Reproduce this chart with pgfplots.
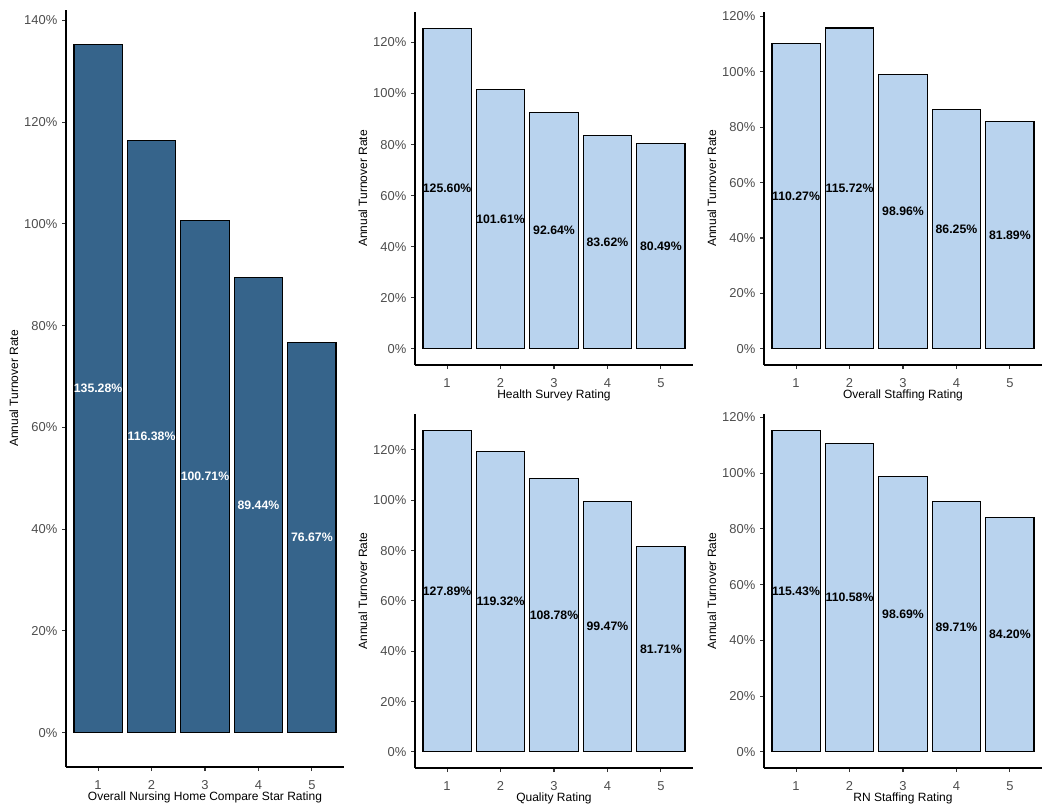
\documentclass[border=0pt]{standalone}
\usepackage{fontspec}
\setmainfont{Liberation Sans}
\setsansfont{Liberation Sans}
\usepackage{pgfplots}
\usepackage{pgfplotstable}
\pgfplotsset{compat=1.18}

\definecolor{darkbar}{RGB}{54,100,139}
\definecolor{lightbar}{RGB}{185,211,238}
\definecolor{ticktext}{RGB}{77,77,77}
\definecolor{tickmark}{RGB}{51,51,51}

% annual turnover rate (%) by star rating
\pgfplotstableread{
r v
1 135.28
2 116.38
3 100.71
4 89.44
5 76.67
}\overall
\pgfplotstableread{
r v
1 125.60
2 101.61
3 92.64
4 83.62
5 80.49
}\health
\pgfplotstableread{
r v
1 110.27
2 115.72
3 98.96
4 86.25
5 81.89
}\staffing
\pgfplotstableread{
r v
1 127.89
2 119.32
3 108.78
4 99.47
5 81.71
}\quality
\pgfplotstableread{
r v
1 115.43
2 110.58
3 98.69
4 89.71
5 84.20
}\rnstaff

\pgfplotsset{
  panel/.style={
    scale only axis, width=208.5pt,
    axis x line*=bottom, axis y line*=left,
    axis line style={-, line width=0.9pt, black},
    xmin=0.4, xmax=5.6, xtick={1,...,5},
    enlargelimits=false, clip=false,
    tick align=outside, major tick length=3pt,
    tick style={tickmark, line width=0.8pt},
    ticklabel style={font=\fontsize{9.7}{11}\selectfont, text=ticktext},
    xticklabel style={yshift=-3.5pt},
    /pgf/number format/assume math mode=true,
    yticklabel={\pgfmathprintnumber{\tick}\%},
    ylabel={Annual Turnover Rate},
    ylabel style={font=\fontsize{9}{10}\selectfont, at={(axis description cs:-0.188,0.5)}, anchor=center},
    xlabel style={font=\fontsize{9}{10}\selectfont, at={(axis description cs:0.5,0)}, anchor=center, yshift=-22.5pt},
  },
  bars/.style={ybar, bar width=0.9, fill=#1, draw=black, line width=0.8pt},
  vals/.style={draw=none, mark=none, point meta=explicit,
    nodes near coords={\pgfmathprintnumber[fixed,fixed zerofill,precision=2]{\pgfplotspointmeta}\%},
    nodes near coords align={center},
    every node near coord/.append style={font=\fontsize{9.2}{10}\selectfont\bfseries, text=#1, inner sep=0pt}},
}

\begin{document}
\begin{tikzpicture}
\path[use as bounding box] (0,0) rectangle (787.5pt,606pt);

% left: overall rating
\begin{axis}[panel, at={(49.5pt,30.75pt)}, anchor=south west, height=567.75pt,
  ymin=-6.764, ymax=142.04, ytick={0,20,...,140},
  xlabel={Overall Nursing Home Compare Star Rating}]
\addplot[bars=darkbar] table[x=r, y=v] {\overall};
\addplot[vals=white] table[x=r, y expr=\thisrow{v}/2, meta=v] {\overall};
\end{axis}

% top middle: health survey
\begin{axis}[panel, at={(311.25pt,332.25pt)}, anchor=south west, height=264.75pt,
  ymin=-6.28, ymax=131.88, ytick={0,20,...,120},
  xlabel={Health Survey Rating}]
\addplot[bars=lightbar] table[x=r, y=v] {\health};
\addplot[vals=black] table[x=r, y expr=\thisrow{v}/2, meta=v] {\health};
\end{axis}

% top right: overall staffing
\begin{axis}[panel, at={(573pt,332.25pt)}, anchor=south west, height=264.75pt,
  ymin=-5.786, ymax=121.5, ytick={0,20,...,120},
  xlabel={Overall Staffing Rating}]
\addplot[bars=lightbar] table[x=r, y=v] {\staffing};
\addplot[vals=black] table[x=r, y expr=\thisrow{v}/2, meta=v] {\staffing};
\end{axis}

% bottom middle: quality
\begin{axis}[panel, at={(311.25pt,30pt)}, anchor=south west, height=265.5pt,
  ymin=-6.39, ymax=134.28, ytick={0,20,...,120},
  xlabel={Quality Rating}]
\addplot[bars=lightbar] table[x=r, y=v] {\quality};
\addplot[vals=black] table[x=r, y expr=\thisrow{v}/2, meta=v] {\quality};
\end{axis}

% bottom right: RN staffing
\begin{axis}[panel, at={(573pt,30pt)}, anchor=south west, height=265.5pt,
  ymin=-5.77, ymax=121.2, ytick={0,20,...,120},
  xlabel={RN Staffing Rating}]
\addplot[bars=lightbar] table[x=r, y=v] {\rnstaff};
\addplot[vals=black] table[x=r, y expr=\thisrow{v}/2, meta=v] {\rnstaff};
\end{axis}
\end{tikzpicture}
\end{document}
